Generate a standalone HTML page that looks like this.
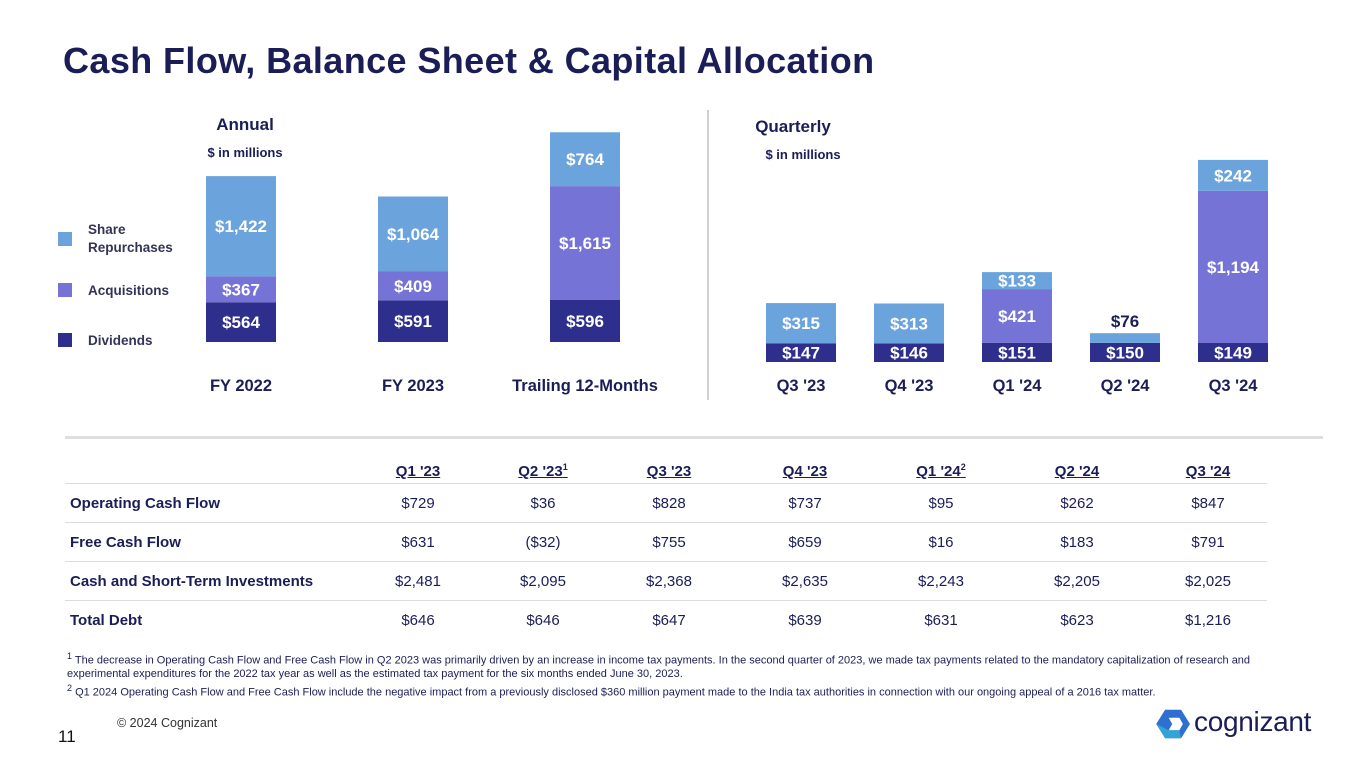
<!DOCTYPE html>
<html><head><meta charset="utf-8">
<style>
body{margin:0;width:1365px;height:768px;background:#fff;font-family:"Liberation Sans",sans-serif;color:#1b1d57;position:relative;overflow:hidden}
.abs{position:absolute}
h1{position:absolute;left:63px;top:40px;margin:0;font-size:36px;font-weight:bold;color:#1b1d57;letter-spacing:0.4px}
table{position:absolute;left:65px;top:452px;width:1202px;border-collapse:collapse;font-size:15px;table-layout:fixed}
td,th{height:38px;padding:0;text-align:center;border-bottom:1.5px solid #dcdcdc;color:#1b1d57}
th{font-weight:bold;text-decoration:underline;height:28px;vertical-align:bottom;padding-bottom:3px}
td:first-child,th:first-child{text-align:left;padding-left:5px;font-weight:bold}
tr:last-child td{border-bottom:none}
sup{font-size:9px}
.fn{position:absolute;left:67px;font-size:11px;color:#1b1d57;line-height:13.5px;width:1240px}
</style></head><body>
<h1>Cash Flow, Balance Sheet &amp; Capital Allocation</h1>
<svg id="chart" class="abs" style="left:0;top:0" width="1365" height="430"></svg>
<div class="abs" style="left:65px;top:436px;width:1258px;height:3px;background:#dedede"></div>
<table>
<colgroup><col style="width:290px"><col style="width:126px"><col style="width:124px"><col style="width:128px"><col style="width:144px"><col style="width:128px"><col style="width:144px"><col style="width:118px"></colgroup>
<tr><th></th><th>Q1 '23</th><th>Q2 '23<sup>1</sup></th><th>Q3 '23</th><th>Q4 '23</th><th>Q1 '24<sup>2</sup></th><th>Q2 '24</th><th>Q3 '24</th></tr>
<tr><td>Operating Cash Flow</td><td>$729</td><td>$36</td><td>$828</td><td>$737</td><td>$95</td><td>$262</td><td>$847</td></tr>
<tr><td>Free Cash Flow</td><td>$631</td><td>($32)</td><td>$755</td><td>$659</td><td>$16</td><td>$183</td><td>$791</td></tr>
<tr><td>Cash and Short-Term Investments</td><td>$2,481</td><td>$2,095</td><td>$2,368</td><td>$2,635</td><td>$2,243</td><td>$2,205</td><td>$2,025</td></tr>
<tr><td>Total Debt</td><td>$646</td><td>$646</td><td>$647</td><td>$639</td><td>$631</td><td>$623</td><td>$1,216</td></tr>
</table>
<div class="fn" style="top:650px"><sup>1</sup> The decrease in Operating Cash Flow and  Free Cash Flow in Q2 2023 was primarily driven by an increase in income tax payments. In the second quarter of 2023, we made tax payments related to the mandatory capitalization of research and experimental expenditures for the 2022 tax year as well as the estimated tax payment for the six months ended June 30, 2023.<br><sup>2</sup> Q1 2024 Operating Cash Flow and Free Cash Flow include the negative impact from a previously disclosed $360 million payment made to the India tax authorities in connection with our ongoing appeal of a 2016 tax matter.</div>
<div class="abs" style="left:117px;top:716px;font-size:12.5px;color:#333">© 2024 Cognizant</div>
<div class="abs" style="left:58px;top:727px;font-size:17px;color:#111">11</div>
<div class="abs" style="left:1156px;top:705px;width:190px;height:40px">
<svg width="36" height="32" viewBox="0 0 40 36" style="position:absolute;left:0;top:3px"><polygon points="10,2 28,2 38,18 28,34 10,34 0,18" fill="#2f6fd0"/><polygon points="14,11 26,11 30,18 26,25 14,25 18,18" fill="#fff"/><polygon points="0,18 10,34 28,34 26,25 14,25" fill="#35b0d8" opacity=".8"/></svg>
<span style="position:absolute;left:38px;top:1px;font-size:28px;color:#1b1d57;letter-spacing:-0.3px">cognizant</span></div>
<script>
const annualCats=["FY 2022","FY 2023","Trailing 12-Months"];
const annualDiv=[564,591,596];
const annualAcq=[367,409,1615];
const annualRep=[1422,1064,764];
const qCats=["Q3 '23","Q4 '23","Q1 '24","Q2 '24","Q3 '24"];
const qDiv=[147,146,151,150,149];
const qAcq=[0,0,421,0,1194];
const qRep=[315,313,133,76,242];
const C={rep:"#6ba3dc",acq:"#7573d6",div:"#2e2f8d"};
const svg=document.getElementById('chart');
const NS="http://www.w3.org/2000/svg";
function mk(t,a){const e=document.createElementNS(NS,t);for(const k in a)e.setAttribute(k,a[k]);svg.appendChild(e);return e;}
function txt(x,y,s,size,fill,w,name){const e=mk('text',{x:x,y:y,'font-size':size,fill:fill,'font-weight':w||'bold','text-anchor':'middle','font-family':'Liberation Sans, sans-serif'});e.textContent=s;


return e;}
const fmt=v=>"$"+v.toLocaleString('en-US');
const aBase=342,aScale=0.0705,aX=i=>206+i*172,aW=70;
function stack(xf,w,base,sc,i,vals,keys){
 let y=base;
 vals.forEach((v,k)=>{if(!v)return;const h=v*sc;
  const r=mk('rect',{x:xf(i),y:y-h,width:w,height:h,fill:C[keys[k]]});
  
  
  if(h>=14)txt(xf(i)+w/2,y-h/2+6,fmt(v),17,'#fff','bold','value-label');
  else txt(xf(i)+w/2,y-h-6,fmt(v),17,'#1b1d57','bold','value-label');
  y-=h;});
}
annualCats.forEach((c,i)=>{stack(aX,aW,aBase,aScale,i,[annualDiv[i],annualAcq[i],annualRep[i]],['div','acq','rep']);
 txt(aX(i)+aW/2,391,c,16.5,'#1b1d57','bold','x-label');});
const qBase=362,qScale=0.1275,qX=i=>766+i*108,qW=70;
qCats.forEach((c,i)=>{stack(qX,qW,qBase,qScale,i,[qDiv[i],qAcq[i],qRep[i]],['div','acq','rep']);
 txt(qX(i)+qW/2,391,c,16.5,'#1b1d57','bold','x-label');});
txt(245,130,"Annual",17,'#1b1d57','bold','annual-title');
txt(245,157,"$ in millions",13,'#1b1d57','bold','annual-units');
txt(793,132,"Quarterly",17,'#1b1d57','bold','quarterly-title');
txt(803,159,"$ in millions",13,'#1b1d57','bold','quarterly-units');
const sep=mk('line',{x1:708,y1:110,x2:708,y2:400,stroke:'#d0d0d0','stroke-width':2});


const leg=[["rep",232,["Share","Repurchases"]],["acq",283,["Acquisitions"]],["div",333,["Dividends"]]];
leg.forEach(l=>{const r=mk('rect',{x:58,y:l[1],width:14,height:14,fill:C[l[0]]});
 
 
 l[2].forEach((s,j)=>{const t=mk('text',{x:88,y:l[1]+(l[2].length>1?2+j*18:12),'font-size':13.5,fill:'#333355','font-weight':'bold','font-family':'Liberation Sans, sans-serif'});t.textContent=s;
 
 });});
</script>
</body></html>
